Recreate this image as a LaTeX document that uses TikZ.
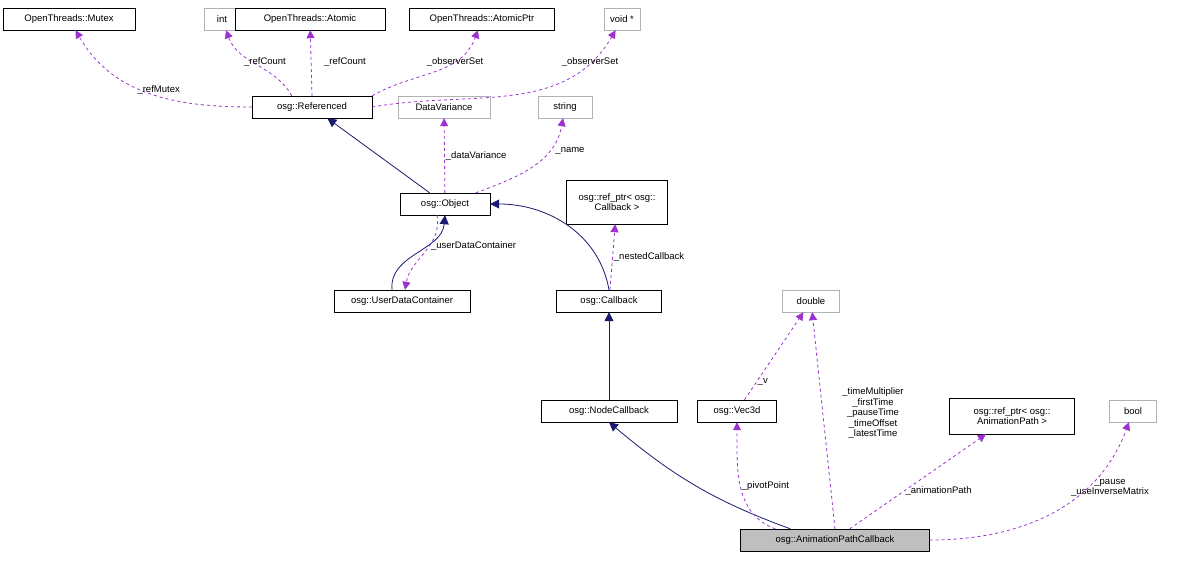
\documentclass[tikz,border=0pt]{standalone}
\usepackage{fontspec}
\setmainfont{Liberation Sans}
\usetikzlibrary{arrows.meta,calc}
\definecolor{memc}{HTML}{9A32CD}
\definecolor{inhc}{HTML}{191970}
\begin{document}
\begin{tikzpicture}[x=1pt,y=-1pt,font=\fontsize{9.5}{10.5}\selectfont,
  box/.style={draw=black,fill=white,inner sep=2pt,minimum height=22pt,align=center},
  gbox/.style={draw=black!30,fill=white,inner sep=2pt,minimum height=22pt,align=center},
  mem/.style={draw=memc,dashed,line width=0.8pt,-{Triangle[fill=memc,length=8pt,width=8pt]}},
  inh/.style={draw=inhc,line width=0.8pt,-{Triangle[fill=inhc,length=9pt,width=9pt]}},
  lab/.style={font=\fontsize{9.5}{10.5}\selectfont,align=center,inner sep=1pt}]
\useasboundingbox (0,0) rectangle (1183,560);
\node[box,minimum width=132pt] (mutex) at (69,19) {OpenThreads::Mutex};
\node[gbox,minimum width=35pt] (int) at (222,19) {int};
\node[box,minimum width=150pt] (atomic) at (310,19) {OpenThreads::Atomic};
\node[box,minimum width=145pt] (aptr) at (482,19) {OpenThreads::AtomicPtr};
\node[gbox,minimum width=36pt] (void) at (622,19) {void *};
\node[box,minimum width=120pt] (ref) at (312,107) {osg::Referenced};
\node[gbox,minimum width=92pt] (dv) at (444,107) {DataVariance};
\node[gbox,minimum width=54pt] (str) at (565,107) {string};
\node[box,minimum width=90pt] (obj) at (445,204) {osg::Object};
\node[box,minimum width=101pt,minimum height=44pt] (rpc) at (617,202) {osg::ref\_ptr< osg::\\Callback >};
\node[box,minimum width=136pt] (udc) at (402,301) {osg::UserDataContainer};
\node[box,minimum width=105pt] (cb) at (609,301) {osg::Callback};
\node[gbox,minimum width=57pt] (dbl) at (811,301) {double};
\node[box,minimum width=136pt] (ncb) at (609,411) {osg::NodeCallback};
\node[box,minimum width=79pt] (vec) at (737,411) {osg::Vec3d};
\node[box,minimum width=125pt,minimum height=36pt] (rpa) at (1012,416) {osg::ref\_ptr< osg::\\AnimationPath >};
\node[gbox,minimum width=47pt] (bool) at (1133,411) {bool};
\node[box,fill=black!25,minimum width=189pt] (apc) at (835,540) {osg::AnimationPathCallback};

\draw[mem] (ref) to[out=180,in=-60] node[lab,pos=0.45,above] {\_refMutex} (mutex);
\draw[mem] ($(ref.north west)+(40,0)$) to[out=120,in=-70] (int);
\node[lab] at (265,62) {\_refCount};
\draw[mem] (ref.north) -- (atomic) ;
\node[lab] at (345,62) {\_refCount};
\draw[mem] (ref.north east) to[out=30,in=-110] (aptr);
\node[lab] at (455,62) {\_observerSet};
\draw[mem] (ref.east) to[out=10,in=-120] (void);
\node[lab] at (590,62) {\_observerSet};
\draw[inh] (obj) -- (ref);
\draw[mem] (obj) -- node[lab,right] {\_dataVariance} (dv);
\draw[mem] (obj) to[out=20,in=-100] (str);
\node[lab] at (570,151) {\_name};
\draw[inh] ($(udc.north)+(-10,0)$) to[out=95,in=-95] (obj.south);
\draw[mem] ($(obj.south)+(-8,0)$) to[out=-80,in=80] node[lab,right,pos=0.4] {\_userDataContainer} ($(udc.north)+(3,0)$);
\draw[inh] (cb.north) to[out=100,in=0] (obj.east);
\draw[mem] (cb) -- node[lab,right] {\_nestedCallback} (rpc);
\draw[inh] (ncb) -- (cb);
\draw[inh] ($(apc.north west)+(50,0)$) to[out=160,in=-40] (ncb.south);
\draw[mem] ($(apc.north west)+(35,0)$) to[out=160,in=-90] node[lab,right,pos=0.5] {\_pivotPoint} (vec);
\draw[mem] (vec) -- node[lab,right,pos=0.2] {\_v} (dbl);
\draw[mem] (apc.north) -- (dbl);
\node[lab] at (873,413) {\_timeMultiplier\\\_firstTime\\\_pauseTime\\\_timeOffset\\\_latestTime};
\draw[mem] ($(apc.north east)+(-80,0)$) -- node[lab,right,pos=0.4] {\_animationPath} (rpa);
\draw[mem] (apc.east) to[out=0,in=-110] (bool);
\node[lab] at (1110,488) {\_pause\\\_useInverseMatrix};
\end{tikzpicture}
\end{document}
